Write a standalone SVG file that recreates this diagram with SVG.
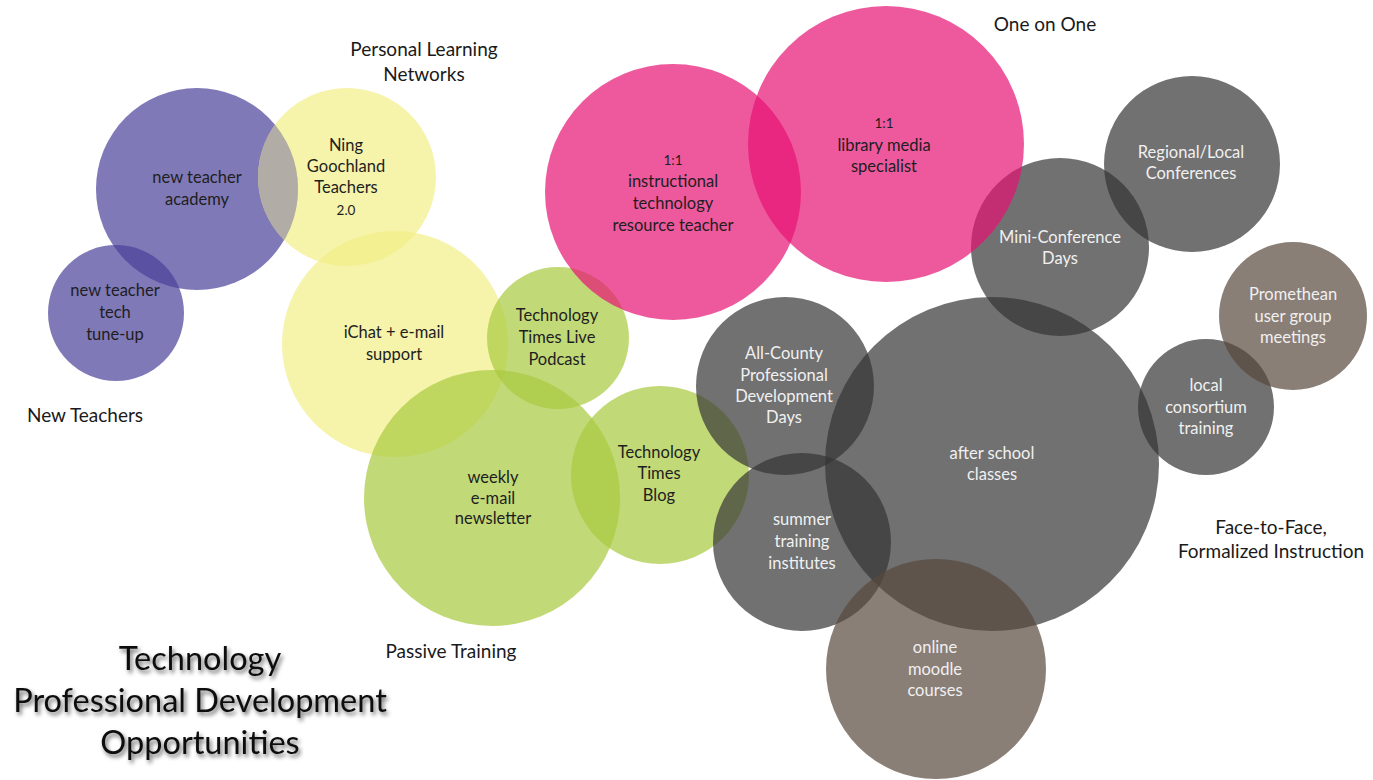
<svg xmlns="http://www.w3.org/2000/svg" width="1373" height="780" viewBox="0 0 1373 780">
  <style>
    .purple { fill: #4a409a; fill-opacity: 0.7; }
    .yellow { fill: #f2ee86; fill-opacity: 0.7; }
    .green  { fill: #a8c93e; fill-opacity: 0.7; }
    .pink   { fill: #e71374; fill-opacity: 0.7; }
    .gray   { fill: #343434; fill-opacity: 0.7; }
    .brown  { fill: #58483d; fill-opacity: 0.7; }
    text { font-family: "Lato", "Noto Sans", sans-serif; text-anchor: middle; }
    .dark { fill: #1e1e1e; font-size: 16.5px; }
    .light { fill: #f0f0f0; font-size: 16.5px; }
    .small { font-size: 13.5px; }
    .group { fill: #1a1a1a; font-size: 19px; }
    .title { fill: #111; font-size: 32.5px; filter: url(#shadow); }
  </style>
  <defs>
    <filter id="shadow" x="-10%" y="-30%" width="120%" height="160%">
      <feDropShadow dx="2" dy="3" stdDeviation="2" flood-color="#000" flood-opacity="0.6"/>
    </filter>
    <clipPath id="academyClip">
      <circle cx="197" cy="189" r="101"/>
    </clipPath>
  </defs>
  <rect width="1373" height="780" fill="#ffffff"/>

  <!-- New Teachers -->
  <g id="new-teacher-academy">
    <circle class="purple" cx="197" cy="189" r="101"/>
  </g>
  <g id="new-teacher-tune-up">
    <circle class="purple" cx="116" cy="313" r="68"/>
  </g>

  <!-- Personal Learning Networks -->
  <g id="ning">
    <circle class="yellow" cx="347" cy="177" r="89"/>
    <circle cx="347" cy="177" r="89" fill="#b1aca6" clip-path="url(#academyClip)"/>
  </g>
  <g id="ichat">
    <circle class="yellow" cx="395" cy="344" r="113"/>
  </g>

  <!-- Passive Training -->
  <g id="podcast">
    <circle class="green" cx="558" cy="338" r="71"/>
  </g>
  <g id="newsletter">
    <circle class="green" cx="492" cy="498" r="128"/>
  </g>
  <g id="blog">
    <circle class="green" cx="660" cy="475" r="89"/>
  </g>

  <!-- Face-to-Face, Formalized Instruction -->
  <g id="mini-conference">
    <circle class="gray" cx="1060" cy="247" r="89"/>
  </g>
  <g id="regional-conferences">
    <circle class="gray" cx="1192" cy="164" r="88"/>
  </g>
  <g id="local-consortium">
    <circle class="gray" cx="1206" cy="407" r="68"/>
  </g>
  <g id="all-county">
    <circle class="gray" cx="785" cy="386" r="89"/>
  </g>
  <g id="after-school">
    <circle class="gray" cx="992" cy="464" r="167"/>
  </g>
  <g id="summer-institutes">
    <circle class="gray" cx="802" cy="542" r="89"/>
  </g>
  <g id="moodle">
    <circle class="brown" cx="936" cy="669" r="110"/>
  </g>
  <g id="promethean">
    <circle class="brown" cx="1293" cy="316" r="74"/>
  </g>

  <!-- One on One -->
  <g id="instructional-tech">
    <circle class="pink" cx="673" cy="192" r="128"/>
  </g>
  <g id="library-media">
    <circle class="pink" cx="886" cy="144" r="138"/>
  </g>

  <!-- node labels -->
  <g id="labels">
    <text class="dark" x="197" y="183">new teacher</text>
    <text class="dark" x="197" y="205">academy</text>

    <text class="dark" x="115" y="296">new teacher</text>
    <text class="dark" x="115" y="318">tech</text>
    <text class="dark" x="115" y="340">tune-up</text>

    <text class="dark" x="346" y="151">Ning</text>
    <text class="dark" x="346" y="172">Goochland</text>
    <text class="dark" x="346" y="193">Teachers</text>
    <text class="dark small" x="346" y="215">2.0</text>

    <text class="dark" x="394" y="338">iChat + e-mail</text>
    <text class="dark" x="394" y="360">support</text>

    <text class="dark" x="557" y="321">Technology</text>
    <text class="dark" x="557" y="343">Times Live</text>
    <text class="dark" x="557" y="365">Podcast</text>

    <text class="dark" x="493" y="483">weekly</text>
    <text class="dark" x="493" y="504">e-mail</text>
    <text class="dark" x="493" y="524">newsletter</text>

    <text class="dark" x="659" y="458">Technology</text>
    <text class="dark" x="659" y="479">Times</text>
    <text class="dark" x="659" y="501">Blog</text>

    <text class="dark small" x="673" y="165">1:1</text>
    <text class="dark" x="673" y="187">instructional</text>
    <text class="dark" x="673" y="209">technology</text>
    <text class="dark" x="673" y="231">resource teacher</text>

    <text class="dark small" x="884" y="128">1:1</text>
    <text class="dark" x="884" y="151">library media</text>
    <text class="dark" x="884" y="172">specialist</text>

    <text class="light" x="1060" y="243">Mini-Conference</text>
    <text class="light" x="1060" y="264">Days</text>

    <text class="light" x="1191" y="158">Regional/Local</text>
    <text class="light" x="1191" y="179">Conferences</text>

    <text class="light" x="1293" y="300">Promethean</text>
    <text class="light" x="1293" y="322">user group</text>
    <text class="light" x="1293" y="343">meetings</text>

    <text class="light" x="1206" y="391">local</text>
    <text class="light" x="1206" y="413">consortium</text>
    <text class="light" x="1206" y="434">training</text>

    <text class="light" x="784" y="359">All-County</text>
    <text class="light" x="784" y="381">Professional</text>
    <text class="light" x="784" y="402">Development</text>
    <text class="light" x="784" y="423">Days</text>

    <text class="light" x="992" y="459">after school</text>
    <text class="light" x="992" y="480">classes</text>

    <text class="light" x="802" y="525">summer</text>
    <text class="light" x="802" y="547">training</text>
    <text class="light" x="802" y="569">institutes</text>

    <text class="light" x="935" y="653">online</text>
    <text class="light" x="935" y="675">moodle</text>
    <text class="light" x="935" y="696">courses</text>
  </g>

  <!-- group captions -->
  <g id="captions">
    <text class="group" x="424" y="56">Personal Learning</text>
    <text class="group" x="424" y="81">Networks</text>
    <text class="group" x="1045" y="31">One on One</text>
    <text class="group" x="85" y="422">New Teachers</text>
    <text class="group" x="451" y="658">Passive Training</text>
    <text class="group" x="1271" y="534">Face-to-Face,</text>
    <text class="group" x="1271" y="558">Formalized Instruction</text>
  </g>

  <!-- title -->
  <g id="title">
    <text class="title" x="200" y="670">Technology</text>
    <text class="title" x="200" y="712">Professional Development</text>
    <text class="title" x="200" y="754">Opportunities</text>
  </g>
</svg>
